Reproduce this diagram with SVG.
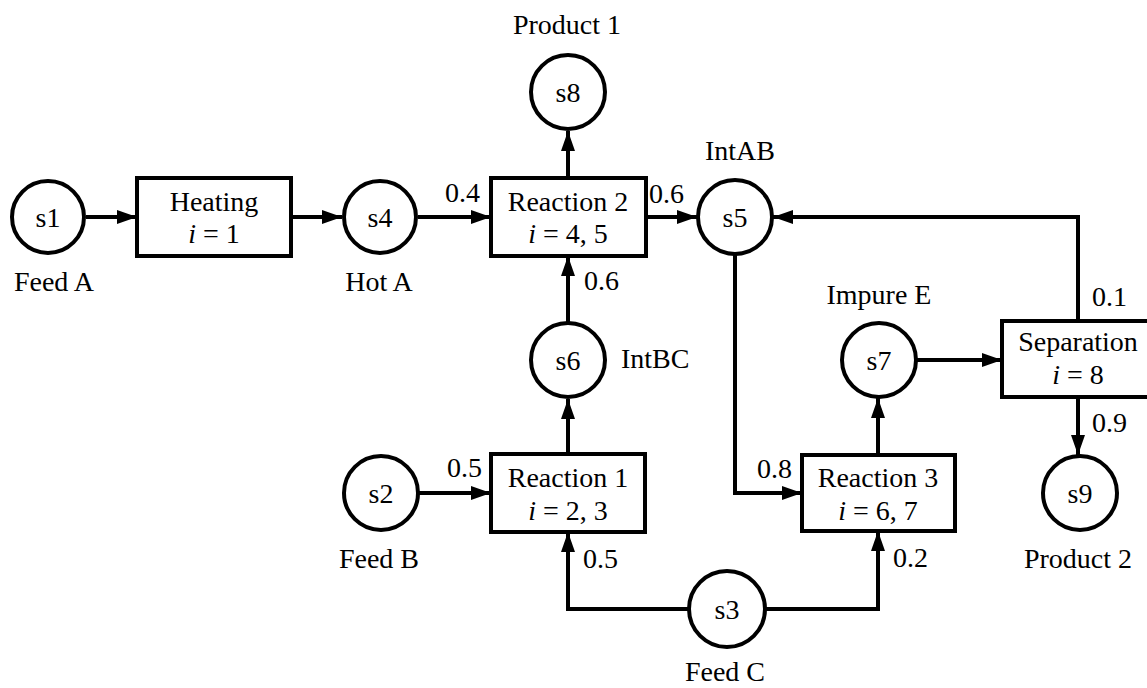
<svg xmlns="http://www.w3.org/2000/svg" width="1147" height="688" viewBox="0 0 1147 688">
<style>
text{font-family:"Liberation Serif","Times New Roman",serif;font-size:28px;fill:#000}
.c{text-anchor:middle}
.n circle,.n rect{fill:#fff;stroke:#000;stroke-width:4}
.e{fill:none;stroke:#000;stroke-width:4}
</style>
<defs>
<marker id="ah" viewBox="0 0 20 14" refX="20" refY="7" markerWidth="20" markerHeight="14" markerUnits="userSpaceOnUse" orient="auto">
<path d="M0,0 L20,7 L0,14 Z" fill="#000"/>
</marker>
</defs>
<rect width="1147" height="688" fill="#fff"/>
<g id="connectors">
<path class="e" d="M86,217 H137" marker-end="url(#ah)"/>
<path class="e" d="M291,217 H342" marker-end="url(#ah)"/>
<path class="e" d="M418,217 H491" marker-end="url(#ah)"/>
<path class="e" d="M646,217 H697" marker-end="url(#ah)"/>
<path class="e" d="M568,178 V131" marker-end="url(#ah)"/>
<path class="e" d="M568,322 V256" marker-end="url(#ah)"/>
<path class="e" d="M568,454 V399" marker-end="url(#ah)"/>
<path class="e" d="M419,493 H491" marker-end="url(#ah)"/>
<path class="e" d="M688,609 H568 V532" marker-end="url(#ah)"/>
<path class="e" d="M766,609 H878 V531" marker-end="url(#ah)"/>
<path class="e" d="M735,255 V493 H802" marker-end="url(#ah)"/>
<path class="e" d="M878,455 V398" marker-end="url(#ah)"/>
<path class="e" d="M917,360 H1002" marker-end="url(#ah)"/>
<path class="e" d="M1078,321 V217 H773" marker-end="url(#ah)"/>
<path class="e" d="M1078,397 V455" marker-end="url(#ah)"/>
<text x="445" y="202">0.4</text>
<text x="649" y="203">0.6</text>
<text x="584" y="290">0.6</text>
<text x="447" y="477">0.5</text>
<text x="583" y="568">0.5</text>
<text x="757" y="478">0.8</text>
<text x="893" y="567">0.2</text>
<text x="1092" y="306">0.1</text>
<text x="1092" y="432">0.9</text>
</g>
<g id="s1" class="n"><circle cx="48" cy="217" r="36"/><text class="c" x="48" y="227">s1</text><text class="c" x="54" y="291">Feed A</text></g>
<g id="heating" class="n"><rect x="137" y="178" width="154" height="78"/><text class="c" x="214" y="211">Heating</text><text class="c" x="214" y="243"><tspan font-style="italic">i</tspan> = 1</text></g>
<g id="s4" class="n"><circle cx="380" cy="217" r="36"/><text class="c" x="380" y="227">s4</text><text class="c" x="379" y="291">Hot A</text></g>
<g id="reaction2" class="n"><rect x="491" y="178" width="155" height="78"/><text class="c" x="568" y="211">Reaction 2</text><text class="c" x="568" y="243"><tspan font-style="italic">i</tspan> = 4, 5</text></g>
<g id="s8" class="n"><circle cx="568" cy="92" r="37"/><text class="c" x="568" y="102">s8</text><text class="c" x="567" y="34">Product 1</text></g>
<g id="s5" class="n"><circle cx="735" cy="217" r="37"/><text class="c" x="735" y="227">s5</text><text class="c" x="740" y="160">IntAB</text></g>
<g id="s6" class="n"><circle cx="568" cy="360" r="37"/><text class="c" x="568" y="370">s6</text><text x="621" y="368">IntBC</text></g>
<g id="reaction1" class="n"><rect x="491" y="454" width="154" height="78"/><text class="c" x="568" y="487">Reaction 1</text><text class="c" x="568" y="520"><tspan font-style="italic">i</tspan> = 2, 3</text></g>
<g id="s2" class="n"><circle cx="381" cy="493" r="37"/><text class="c" x="381" y="503">s2</text><text class="c" x="379" y="568">Feed B</text></g>
<g id="s3" class="n"><circle cx="727" cy="609" r="38"/><text class="c" x="727" y="619">s3</text><text class="c" x="725" y="681">Feed C</text></g>
<g id="reaction3" class="n"><rect x="802" y="455" width="153" height="76"/><text class="c" x="878" y="487">Reaction 3</text><text class="c" x="878" y="520"><tspan font-style="italic">i</tspan> = 6, 7</text></g>
<g id="s7" class="n"><circle cx="879" cy="360" r="37"/><text class="c" x="879" y="370">s7</text><text class="c" x="879" y="304">Impure E</text></g>
<g id="separation" class="n"><rect x="1002" y="321" width="154" height="76"/><text class="c" x="1078" y="351">Separation</text><text class="c" x="1078" y="384"><tspan font-style="italic">i</tspan> = 8</text></g>
<g id="s9" class="n"><circle cx="1080" cy="493" r="37"/><text class="c" x="1080" y="503">s9</text><text class="c" x="1078" y="568">Product 2</text></g>
</svg>
